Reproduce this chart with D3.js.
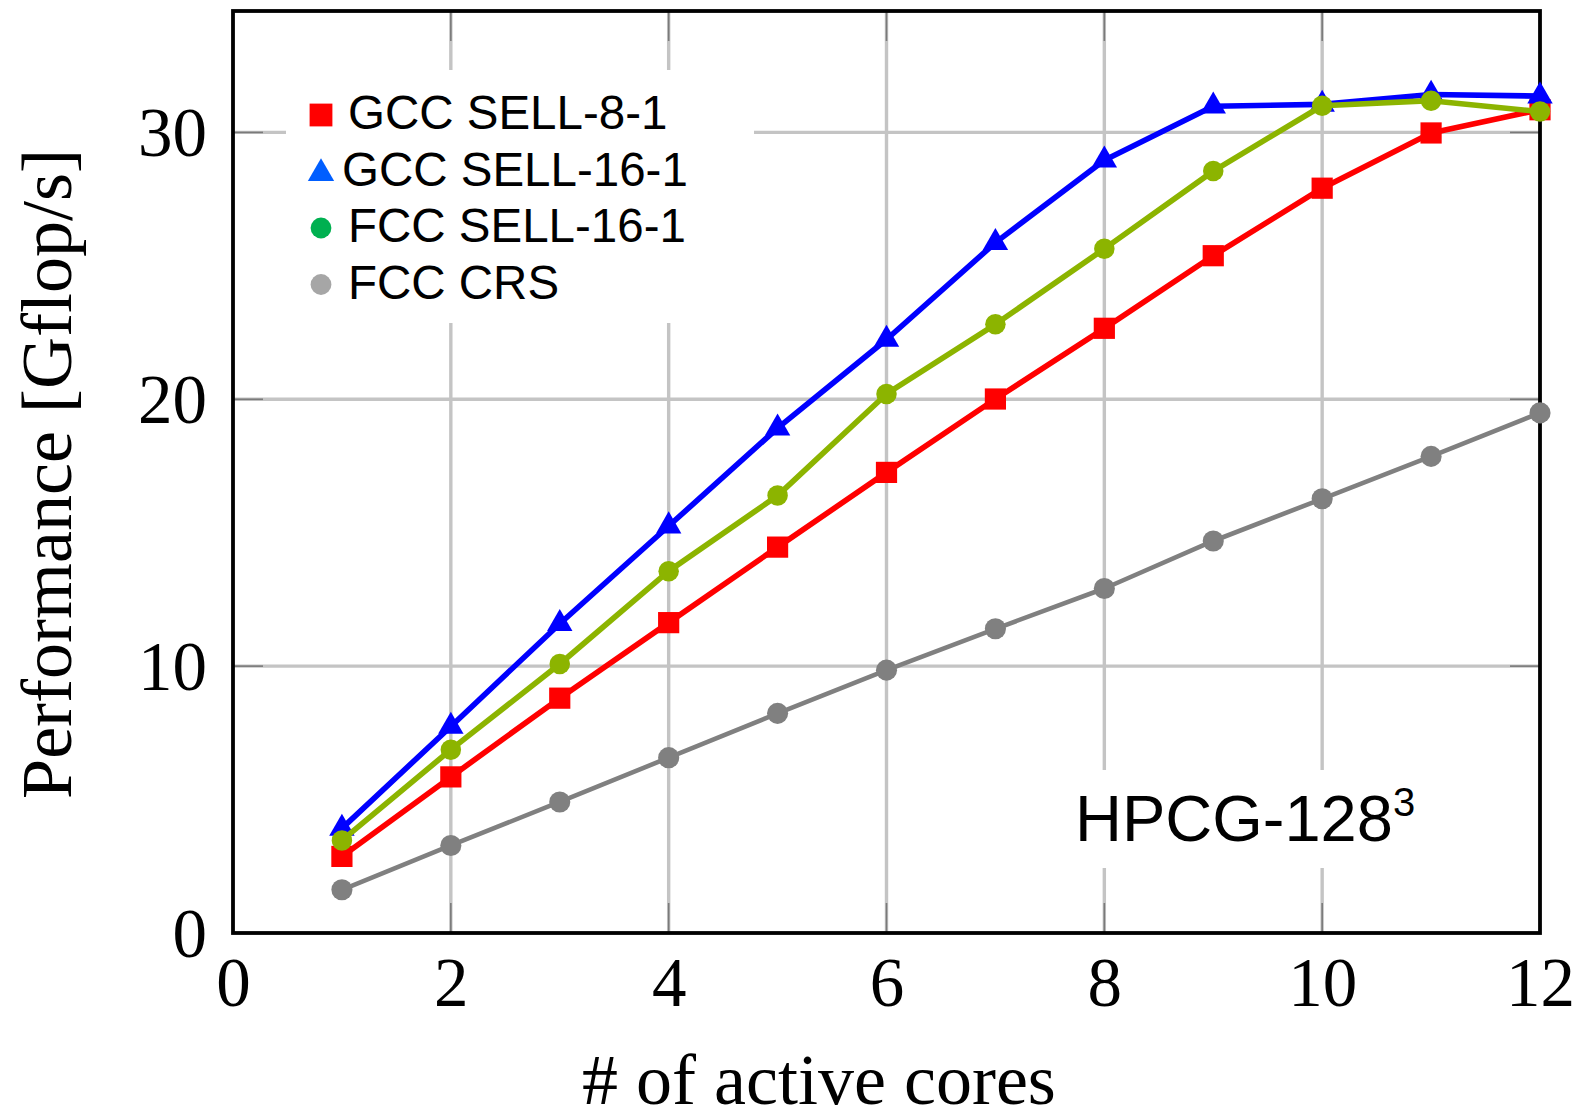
<!doctype html>
<html>
<head>
<script src="https://cdnjs.cloudflare.com/ajax/libs/d3/7.8.5/d3.min.js"></script>
<style>
  body { margin: 0; background: #fff; }
</style>
</head>
<body>
<svg id="chart" width="1580" height="1117"></svg>
<script>
// data
var cores = [1, 2, 3, 4, 5, 6, 7, 8, 9, 10, 11, 12];
var gccSell8 = [2.87, 5.85, 8.80, 11.63, 14.46, 17.26, 20.01, 22.66, 25.38, 27.91, 29.98, 30.85];
var gccSell16 = [3.92, 7.74, 11.59, 15.25, 18.92, 22.24, 25.87, 28.96, 30.98, 31.05, 31.42, 31.36];
var fccSell16 = [3.47, 6.87, 10.08, 13.56, 16.39, 20.20, 22.81, 25.64, 28.55, 31.00, 31.19, 30.78];
var fccCrs = [1.62, 3.28, 4.91, 6.57, 8.23, 9.85, 11.40, 12.91, 14.69, 16.27, 17.86, 19.49];
var xTicks = [0, 2, 4, 6, 8, 10, 12];
var yTicks = [0, 10, 20, 30];
var seriesNames = ["GCC SELL-8-1", "GCC SELL-16-1", "FCC SELL-16-1", "FCC CRS"];

var svg = d3.select("#chart");
svg.append("rect").attr("width", 1580).attr("height", 1117).attr("fill", "#fff");

var plotL = 233, plotR = 1540, plotT = 11, plotB = 933;

var x = d3.scaleLinear().domain([0, 12]).range([plotL, plotR]);
var y = d3.scaleLinear().domain([0, 34.55]).range([plotB, plotT]);

// grid
var grid = svg.append("g");
grid.selectAll(".vg")
    .data(xTicks.slice(1, -1))
    .enter().append("line")
    .attr("x1", d => x(d)).attr("x2", d => x(d))
    .attr("y1", plotT).attr("y2", plotB)
    .attr("stroke", "#c4c4c4").attr("stroke-width", 3.4);
grid.selectAll(".hg")
    .data(yTicks.slice(1))
    .enter().append("line")
    .attr("x1", plotL).attr("x2", plotR)
    .attr("y1", d => y(d)).attr("y2", d => y(d))
    .attr("stroke", "#c4c4c4").attr("stroke-width", 3.4);

// small tick marks inside the frame
var tk = svg.append("g").attr("stroke", "#7a7a7a").attr("stroke-width", 1.6);
xTicks.slice(1, -1).forEach(function(d) {
    tk.append("line").attr("x1", x(d)).attr("x2", x(d)).attr("y1", plotB).attr("y2", plotB - 30);
    tk.append("line").attr("x1", x(d)).attr("x2", x(d)).attr("y1", plotT).attr("y2", plotT + 30);
});
yTicks.slice(1).forEach(function(d) {
    tk.append("line").attr("x1", plotL).attr("x2", plotL + 30).attr("y1", y(d)).attr("y2", y(d));
    tk.append("line").attr("x1", plotR).attr("x2", plotR - 30).attr("y1", y(d)).attr("y2", y(d));
});

// white boxes behind legend and label (they cut the grid)
svg.append("rect").attr("x", 286).attr("y", 70).attr("width", 468).attr("height", 253).attr("fill", "#fff");
svg.append("rect").attr("x", 1062).attr("y", 770).attr("width", 360).attr("height", 98).attr("fill", "#fff");

// frame
svg.append("rect")
    .attr("x", plotL).attr("y", plotT)
    .attr("width", plotR - plotL).attr("height", plotB - plotT)
    .attr("fill", "none").attr("stroke", "#000").attr("stroke-width", 3.8);

// axes labels via d3 axes
var xAxis = svg.append("g")
    .attr("transform", "translate(0," + plotB + ")")
    .call(d3.axisBottom(x).tickValues(xTicks).tickSize(0).tickPadding(24));
xAxis.select(".domain").remove();
xAxis.selectAll("text")
    .attr("font-family", "'Liberation Serif', 'Times New Roman', serif")
    .attr("font-size", 69).attr("fill", "#000");

var yAxis = svg.append("g")
    .attr("transform", "translate(" + plotL + ",0)")
    .call(d3.axisLeft(y).tickValues(yTicks).tickSize(0).tickPadding(26));
yAxis.select(".domain").remove();
yAxis.selectAll("text")
    .attr("font-family", "'Liberation Serif', 'Times New Roman', serif")
    .attr("font-size", 69).attr("fill", "#000").attr("dy", "0.34em");

svg.append("text")
    .attr("x", 819).attr("y", 1104)
    .attr("text-anchor", "middle")
    .attr("font-family", "'Liberation Serif', 'Times New Roman', serif")
    .attr("font-size", 72)
    .text("# of active cores");

svg.append("text")
    .attr("transform", "translate(71,474) rotate(-90)")
    .attr("text-anchor", "middle")
    .attr("font-family", "'Liberation Serif', 'Times New Roman', serif")
    .attr("font-size", 72)
    .text("Performance [Gflop/s]");

// series
var series = [
    { name: seriesNames[3], values: fccCrs, color: "#808080", width: 4.6, shape: d3.symbolCircle, size: 350 },
    { name: seriesNames[0], values: gccSell8, color: "#ff0000", width: 5.6, shape: d3.symbolSquare, size: 450 },
    { name: seriesNames[1], values: gccSell16, color: "#0000ff", width: 5.6, shape: d3.symbolTriangle, size: 280 },
    { name: seriesNames[2], values: fccSell16, color: "#8cb400", width: 5.6, shape: d3.symbolCircle, size: 330 }
];

var line = d3.line().x((d, i) => x(cores[i])).y(d => y(d));

series.forEach(function(s) {
    var g = svg.append("g");
    g.append("path")
        .attr("d", line(s.values))
        .attr("fill", "none")
        .attr("stroke", s.color)
        .attr("stroke-width", s.width)
        .attr("stroke-linejoin", "round");
    g.selectAll("path.m")
        .data(s.values)
        .enter().append("path")
        .attr("class", "m")
        .attr("transform", (d, i) => "translate(" + x(cores[i]) + "," + y(d) + ")")
        .attr("d", d3.symbol().type(s.shape).size(s.size))
        .attr("fill", s.color);
});

// legend
var legendItems = [
    { name: seriesNames[0], color: "#ff0000", shape: d3.symbolSquare, size: 520, tx: 348 },
    { name: seriesNames[1], color: "#005eff", shape: d3.symbolTriangle, size: 300, tx: 342 },
    { name: seriesNames[2], color: "#00b050", shape: d3.symbolCircle, size: 340, tx: 348 },
    { name: seriesNames[3], color: "#a6a6a6", shape: d3.symbolCircle, size: 340, tx: 348 }
];
var legend = svg.append("g");
legendItems.forEach(function(d, i) {
    var by = 129 + i * 56.5;
    legend.append("path")
        .attr("transform", "translate(321," + (by - 14 + (i == 1 ? 2 : 0)) + ")")
        .attr("d", d3.symbol().type(d.shape).size(d.size))
        .attr("fill", d.color);
    legend.append("text")
        .attr("x", d.tx).attr("y", by)
        .attr("font-family", "'Liberation Sans', Arial, sans-serif")
        .attr("font-size", 47.5)
        .text(d.name);
});

// annotation
var ann = svg.append("text")
    .attr("x", 1075).attr("y", 841)
    .attr("font-family", "'Liberation Sans', Arial, sans-serif")
    .attr("font-size", 65);
ann.append("tspan").text("HPCG-128");
ann.append("tspan").attr("font-size", 40).attr("dy", -25).text("3");
</script>
</body>
</html>
